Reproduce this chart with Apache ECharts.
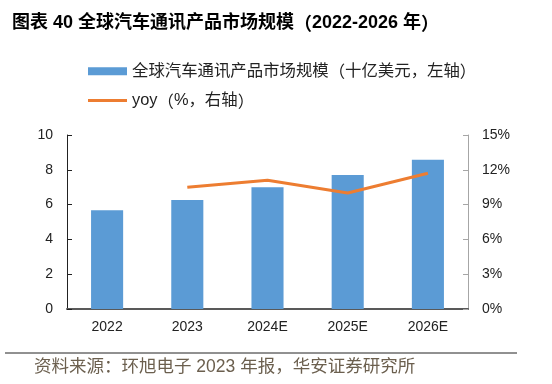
<!DOCTYPE html>
<html><head><meta charset="utf-8">
<script src="https://cdn.jsdelivr.net/npm/echarts@6/dist/echarts.min.js"></script>
<style>html,body{margin:0;padding:0;background:#fff}#c{width:552px;height:384px}</style>
</head><body><div id="c"></div>
<script>
const categories = ['2022', '2023', '2024E', '2025E', '2026E'];
const marketSize = [5.67, 6.26, 6.99, 7.70, 8.58];
const yoy = [null, 10.5, 11.1, 10.0, 11.7];
const leftTicks = [0, 10, 2];
const rightTicks = [0, 15, 3];
const barName = '全球汽车通讯产品市场规模（十亿美元，左轴）';
const lineName = 'yoy（%，右轴）';
const FONT = "'Liberation Sans', 'Noto Sans CJK SC', sans-serif";
const PFONT = "'Noto Sans CJK TC', sans-serif";
const wrapParens = s => s.replace('（', '{p|（}').replace('）', '{p|）}');

const chart = echarts.init(document.getElementById('c'), null, {renderer: 'canvas'});
chart.setOption({
  animation: false,
  textStyle: {fontFamily: FONT},
  title: {
    text: wrapParens('图表 40 全球汽车通讯产品市场规模（2022-2026 年）'),
    left: 7, top: 9,
    textStyle: {fontFamily: FONT, fontSize: 18, fontWeight: 'bold', color: '#000',
      rich: {p: {fontFamily: PFONT, fontSize: 18, fontWeight: 'bold', color: '#000'}}}
  },
  legend: {
    orient: 'vertical', left: 88, top: 63, itemGap: 13, padding: 0,
    itemWidth: 39, itemHeight: 8,
    formatter: name => wrapParens(name),
    textStyle: {fontFamily: FONT, fontSize: 16.4, color: '#222',
      rich: {p: {fontFamily: PFONT, fontSize: 16.4, color: '#222'}}},
    data: [
      {name: barName, icon: 'rect'},
      {name: lineName, icon: 'path://M0,0 L39,0 L39,3 L0,3 Z', itemStyle: {color: '#ED7D31'}}
    ]
  },
  grid: {left: 67, right: 84, top: 135, bottom: 75},
  xAxis: {
    type: 'category', data: categories,
    axisLine: {lineStyle: {color: '#595959', width: 2}},
    axisTick: {inside: true, alignWithLabel: false, lineStyle: {color: '#333'}, length: 5},
    axisLabel: {fontSize: 14, color: '#222', margin: 11, fontFamily: FONT}
  },
  yAxis: [
    {
      type: 'value', min: leftTicks[0], max: leftTicks[1], interval: leftTicks[2],
      axisLine: {show: true, lineStyle: {color: '#222'}},
      axisTick: {show: true, inside: true, length: 5, lineStyle: {color: '#222'}},
      splitLine: {show: false},
      axisLabel: {fontSize: 14, color: '#222', margin: 14, fontFamily: FONT}
    },
    {
      type: 'value', min: rightTicks[0], max: rightTicks[1], interval: rightTicks[2],
      axisLine: {show: true, lineStyle: {color: '#a6a6a6'}},
      axisTick: {show: true, inside: true, length: 5, lineStyle: {color: '#a6a6a6'}},
      splitLine: {show: false},
      axisLabel: {fontSize: 14, color: '#222', margin: 14, formatter: '{value}%', fontFamily: FONT}
    }
  ],
  series: [
    {
      name: barName, type: 'bar', data: marketSize, barWidth: '40%',
      itemStyle: {color: '#5B9BD5'}
    },
    {
      name: lineName, type: 'line', yAxisIndex: 1, data: yoy,
      symbol: 'none', lineStyle: {color: '#ED7D31', width: 3},
      itemStyle: {color: '#ED7D31'}
    }
  ],
  graphic: [
    {type: 'line', shape: {x1: 5, y1: 353, x2: 517, y2: 353}, style: {stroke: '#222', lineWidth: 1}},
    {type: 'text', left: 34, top: 358, style: {text: '资料来源：环旭电子 2023 年报，华安证券研究所', font: "17.5px 'Liberation Sans', 'Noto Sans CJK SC', sans-serif", fill: '#6b5f4e'}}
  ]
});
</script></body></html>
